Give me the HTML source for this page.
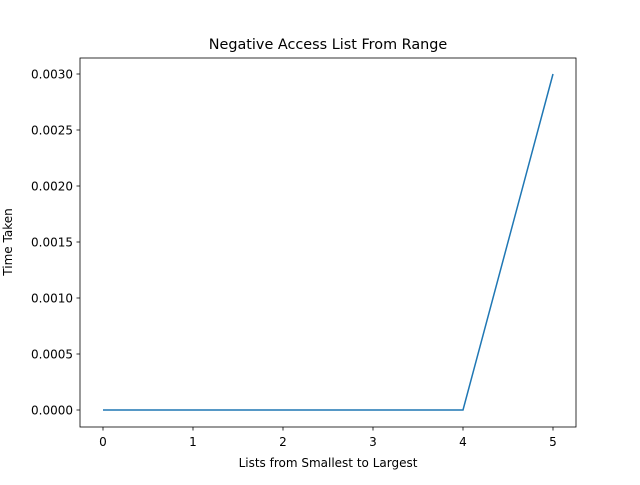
<!DOCTYPE html>
<html><head><meta charset="utf-8"><style>
body{margin:0;background:#fff;}
svg text{font-family:"DejaVu Sans","Liberation Sans",sans-serif;fill:#000;}
</style></head><body>
<svg id="chart" width="640" height="480">
<rect width="640" height="480" fill="#fff"/>
<text x="328" y="49" font-size="14.4" text-anchor="middle">Negative Access List From Range</text>
<g id="xt"></g>
<g id="yt"></g>
<path id="line" fill="none" stroke="#1f77b4" stroke-width="1.5"/>
<rect x="80" y="58" width="496" height="369" fill="none" stroke="#000" stroke-width="0.8"/>
<text x="328" y="467" font-size="12" text-anchor="middle">Lists from Smallest to Largest</text>
<text transform="translate(12,242) rotate(-90)" font-size="12" text-anchor="middle">Time Taken</text>
</svg>
<script>
const xValues=[0,1,2,3,4,5];
const yValues=[0,0,0,0,0,0.003];
const xTicks=[0,1,2,3,4,5];
const yTicks=["0.0000","0.0005","0.0010","0.0015","0.0020","0.0025","0.0030"];
const NS="http://www.w3.org/2000/svg";
function sx(v){return 103+v*90;}
function sy(v){return 410-v*112000;}
const xt=document.getElementById('xt'),yt=document.getElementById('yt');
xTicks.forEach(t=>{
 const l=document.createElementNS(NS,'line');
 
 
 l.setAttribute('x1',sx(t));l.setAttribute('x2',sx(t));l.setAttribute('y1',427);l.setAttribute('y2',430.5);l.setAttribute('stroke','#000');l.setAttribute('stroke-width','0.8');
 xt.appendChild(l);
 const tx=document.createElementNS(NS,'text');
 
 
 tx.setAttribute('x',sx(t));tx.setAttribute('y',446);tx.setAttribute('font-size','12');tx.setAttribute('text-anchor','middle');
 tx.textContent=t;xt.appendChild(tx);
});
yTicks.forEach(t=>{
 const v=parseFloat(t);
 const l=document.createElementNS(NS,'line');
 
 
 l.setAttribute('x1',76.5);l.setAttribute('x2',80);l.setAttribute('y1',sy(v));l.setAttribute('y2',sy(v));l.setAttribute('stroke','#000');l.setAttribute('stroke-width','0.8');
 yt.appendChild(l);
 const tx=document.createElementNS(NS,'text');
 
 
 tx.setAttribute('x',73);tx.setAttribute('y',sy(v)+4.5);tx.setAttribute('font-size','12');tx.setAttribute('text-anchor','end');
 tx.textContent=t;yt.appendChild(tx);
});
document.getElementById('line').setAttribute('d',xValues.map((x,i)=>(i?'L':'M')+sx(x)+','+sy(yValues[i])).join(' '));
</script>
</body></html>
